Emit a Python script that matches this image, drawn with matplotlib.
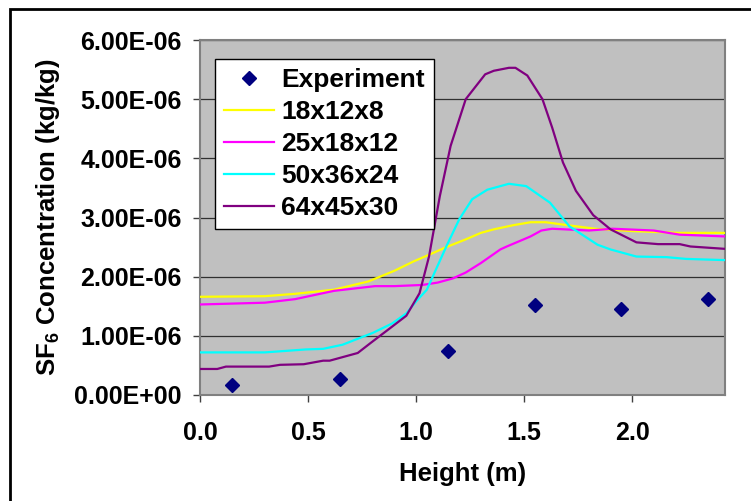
import matplotlib
matplotlib.use('Agg')
import matplotlib.pyplot as plt
from matplotlib.patches import Rectangle
from matplotlib.ticker import FuncFormatter, MultipleLocator

plt.rcParams['font.family'] = ['Liberation Sans', 'DejaVu Sans']
plt.rcParams['font.weight'] = 'bold'
plt.rcParams['mathtext.fontset'] = 'custom'
plt.rcParams['mathtext.rm'] = 'Liberation Sans:bold'
plt.rcParams['mathtext.it'] = 'Liberation Sans:bold'
plt.rcParams['mathtext.bf'] = 'Liberation Sans:bold'

# experiment points (height m, concentration kg/kg)
exp_x = [0.15, 0.65, 1.15, 1.55, 1.95, 2.35]
exp_y = [0.17e-6, 0.27e-6, 0.75e-6, 1.52e-6, 1.46e-6, 1.63e-6]

# grid 18x12x8
g1_x = [0, 0.3, 0.44, 0.62, 0.78, 0.9, 0.99, 1.06, 1.14, 1.23, 1.30, 1.36,
        1.45, 1.53, 1.60, 1.70, 1.83, 2.0, 2.22, 2.43]
g1_y = [1.66, 1.67, 1.71, 1.78, 1.92, 2.10, 2.26, 2.37, 2.50, 2.63, 2.74, 2.80,
        2.87, 2.92, 2.92, 2.87, 2.81, 2.77, 2.74, 2.74]

# grid 25x18x12
g2_x = [0, 0.30, 0.44, 0.62, 0.81, 0.90, 1.03, 1.10, 1.17, 1.23, 1.30, 1.39,
        1.42, 1.53, 1.58, 1.63, 1.80, 1.91, 2.10, 2.22, 2.43]
g2_y = [1.53, 1.56, 1.62, 1.76, 1.84, 1.84, 1.86, 1.90, 1.97, 2.07, 2.23, 2.46,
        2.51, 2.68, 2.78, 2.81, 2.78, 2.81, 2.78, 2.71, 2.68]

# grid 50x36x24
g3_x = [0, 0.30, 0.49, 0.57, 0.66, 0.80, 0.89, 0.955, 1.0, 1.05, 1.14, 1.20,
        1.26, 1.33, 1.43, 1.51, 1.62, 1.71, 1.84, 1.90, 2.02, 2.16, 2.25, 2.43]
g3_y = [0.72, 0.72, 0.77, 0.78, 0.85, 1.05, 1.21, 1.38, 1.58, 1.78, 2.51, 2.97,
        3.31, 3.47, 3.57, 3.53, 3.25, 2.85, 2.54, 2.46, 2.34, 2.33, 2.30, 2.28]

# grid 64x45x30
g4_x = [0, 0.08, 0.12, 0.32, 0.37, 0.48, 0.57, 0.60, 0.66, 0.73, 0.79, 0.88,
        0.955, 1.016, 1.06, 1.11, 1.16, 1.23, 1.32, 1.36, 1.43, 1.46, 1.515,
        1.585, 1.63, 1.68, 1.74, 1.82, 1.90, 2.02, 2.12, 2.22, 2.27, 2.43]
g4_y = [0.44, 0.44, 0.48, 0.48, 0.51, 0.52, 0.58, 0.58, 0.64, 0.71, 0.88, 1.13,
        1.34, 1.72, 2.34, 3.36, 4.21, 5.0, 5.42, 5.48, 5.53, 5.53, 5.40,
        5.0, 4.52, 3.93, 3.45, 3.04, 2.80, 2.58, 2.55, 2.55, 2.51, 2.47]

labels = ['Experiment', '18x12x8', '25x18x12', '50x36x24', '64x45x30']
colors = ['#FFFF00', '#FF00FF', '#00FFFF', '#800080']

fig = plt.figure(figsize=(7.51, 5.01), dpi=100)
ax = fig.add_axes([200 / 751, 106 / 501, 525 / 751, 355 / 501])
ax.set_facecolor('#C0C0C0')

ax.plot(exp_x, exp_y, linestyle='none', marker='D', markersize=7,
        color='#000080', label=labels[0], zorder=4)
for xs, ys, c, lab in zip([g1_x, g2_x, g3_x, g4_x], [g1_y, g2_y, g3_y, g4_y],
                          colors, labels[1:]):
    ax.plot(xs, [v * 1e-6 for v in ys], color=c, lw=1.6, label=lab, zorder=3)

ax.set_xlim(0, 2.43)
ax.set_ylim(0, 6e-6)
ax.xaxis.set_major_locator(MultipleLocator(0.5))
ax.yaxis.set_major_locator(MultipleLocator(1e-6))
ax.xaxis.set_major_formatter(FuncFormatter(lambda v, p: f'{v:.1f}'))
ax.yaxis.set_major_formatter(FuncFormatter(lambda v, p: f'{v:.2E}'))
ax.grid(axis='y', color='#303030', lw=0.9)
ax.set_axisbelow(True)

for s in ax.spines.values():
    s.set_color('#808080')
    s.set_linewidth(1.5)

ax.tick_params(axis='both', direction='out', length=5, width=1, color='#404040',
               labelsize=18)
ax.tick_params(axis='x', pad=14)
ax.tick_params(axis='y', pad=8)
for t in ax.get_xticklabels() + ax.get_yticklabels():
    t.set_fontweight('bold')

ax.set_xlabel('Height (m)', fontsize=18.5, fontweight='bold', labelpad=12)
ax.set_ylabel(r'SF$_6$ Concentration (kg/kg)', fontsize=18.5, fontweight='bold',
              labelpad=9)

leg = ax.legend(loc='upper left', bbox_to_anchor=(15 / 525, 336 / 355),
                borderaxespad=0, fontsize=19, frameon=True, fancybox=False,
                edgecolor='black', facecolor='white', framealpha=1,
                handlelength=1.9, handletextpad=0.25, labelspacing=0.3,
                borderpad=0.35)
leg.get_frame().set_linewidth(1.0)
for t in leg.get_texts():
    t.set_fontweight('bold')

# chart frame (only left and top edges fall inside the picture)
fig.patches.append(Rectangle((10 / 751, -0.5), 2.0, 0.5 + (501 - 8.5) / 501,
                             transform=fig.transFigure, fill=False,
                             edgecolor='black', lw=2, clip_on=False))

fig.savefig('out.png', dpi=100)
